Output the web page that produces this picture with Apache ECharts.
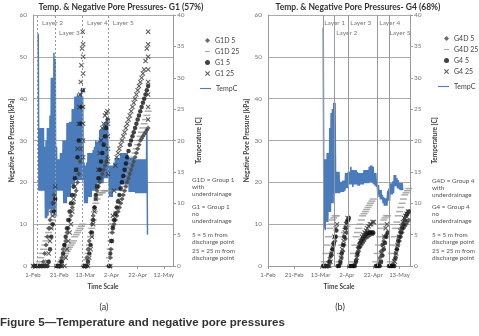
<!DOCTYPE html>
<html>
<head>
<meta charset="utf-8">
<script src="https://cdn.jsdelivr.net/npm/echarts@6/dist/echarts.min.js"></script>
<style>
html,body{margin:0;padding:0;background:#fff;}
#main{width:479px;height:336px;}
</style>
</head>
<body>
<div id="main"></div>
<script>
// x axis = days counted from 1-Feb
const tickLabelsA = ['1-Feb', '21-Feb', '13-Mar', '2-Apr', '22-Apr', '12-May'];
const tickLabelsB = ['1-Feb', '21-Feb', '13-Mar', '2-Apr', '22-Apr', '13-May'];

// layer placement lines (day) and their labels [day, kPa, text]
const layersA = [3.6, 17.3, 37.9, 57.5];
const layersB = [41.8, 50.6, 61.1, 83.2, 92.1];
const layerLabelsA = [[6.9, 58.1, 'Layer 2'], [19.8, 55.7, 'Layer 3'], [41.2, 58.1, 'Layer 4'], [61, 58.1, 'Layer 5']];
const layerLabelsB = [[42.7, 58.1, 'Layer 1'], [51.9, 55.7, 'Layer 2'], [62.6, 58.1, 'Layer 3'], [84.7, 58.1, 'Layer 4'], [92.4, 55.7, 'Layer 5']];

// temperature: daily high / low readings
const tempStartA = 4;
const tempHighA = [37, 22, 22, 22, 22, 19, 20, 22, 22, 24,
  30, 30, 34, 33, 19, 17, 17, 18, 18, 20,
  20, 20, 22.8, 22.8, 23, 23, 25, 25, 27, 27,
  27.5, 27, 27.5, 27.7, 27, 16.5, 16, 16.5, 18, 18,
  18, 18, 18.5, 19, 20, 19.8, 20, 21.7, 21.7, 22,
  22.5, 23, 23, 23, 16, 16, 16, 16, 16.5, 17.2,
  17.2, 17.2, 17.2, 18, 18, 18, 18, 18, 18, 17.2,
  17.2, 17.2, 17.2, 17.2, 17, 17, 17, 17, 17, 17,
  17, 17, 17, 22];
const tempLowA = [12, 12, 12, 12, 12, 7.6, 7.6, 8, 9, 9,
  9, 9, 8, 8, 12, 12, 12, 12, 12, 10,
  10, 10, 11, 11, 11, 13, 13, 13, 13.7, 13.7,
  13.7, 13.7, 13.7, 13.7, 13.7, 10, 10, 10, 11, 11,
  11, 12, 12, 12, 12, 13.2, 13.2, 13.2, 13.2, 13.2,
  14, 14, 14, 14, 11, 11, 11, 12, 12, 12,
  12, 12, 12, 13, 13, 13, 13, 13, 13, 11.8,
  11.8, 11.8, 11.8, 11.8, 11.6, 11.6, 11.6, 11.6, 11.6, 11.6,
  11.6, 11.6, 11.6, 5];

const tempStartB = 42;
const tempHighB = [38, 17, 17, 18, 18, 22, 24.4, 25, 26, 26,
  15, 15, 15, 13.4, 13.4, 13.6, 13.6, 14.8, 14.8, 15,
  15, 15.8, 15.3, 15.3, 15.3, 15.3, 15, 14.8, 14.8, 14.8,
  14.8, 15.3, 15.3, 15.3, 15.3, 15.8, 16, 16, 15.8, 14.8,
  14.8, 13.2, 12.9, 12.1, 12.1, 11.3, 11, 10.8, 10.8, 12,
  12.4, 13.2, 13.2, 13.5, 14.5, 14.5, 14, 13.7, 13.2, 13.2,
  13.2];
const tempLowB = [6, 5.7, 7, 7, 8.6, 8.6, 10, 10, 11.6, 11.6,
  11.6, 11.6, 11.6, 11.8, 11.8, 11.8, 12, 12.4, 12.4, 13,
  13, 13, 12.6, 13, 13, 13, 12.8, 12.8, 13, 13,
  13, 13.2, 13.2, 13.2, 13.2, 13.4, 13.4, 13.2, 13, 12.8,
  12.6, 11.4, 11, 10.6, 10.6, 10, 9.6, 9.6, 9.6, 10.4,
  10.4, 11.4, 11.4, 11.6, 12.7, 12.7, 12.4, 12.3, 12.1, 12.1,
  12.1];

// negative pore pressure readings [day, kPa]
const g1d5 = [[0.5,0],[2.5,0],[4.5,0],[6.5,0],
  [8,1],[9,3],[10,5],[11,7],[12,9],[13,11],[14,13],[15,15],[16,17],
  [18.5,0],[20.5,0],
  [21,1],[22,2],[23,4],[24,5],[25,6],[26,8],[27,9],[28,11],[29,12],[30,14],[31,15],[32,17],[33,18],[34,20],[35,22],[36,25],[37,28],
  [38.5,0],[40.5,0],
  [41,2],[42,4],[43,6],[44,8],[45,10],[46,12],[47,14],[48,16],[49,18],[50,19],[51,20],[52,21],[53,22],[54,23],[55,24],[56,25],[57,26],
  [58.5,0],[59,2],[59.5,4],[60,6],[60.5,8],[61,9.5],[62,10],[63,11],[64,12],[65,13],[66,14],[67,15],[68,16],[69,17],[70,18],[71,19],[72,20],[73,21],[74,22],[75,23],[76,24],[77,25],[78,26],[79,27],[80,28],[81,29],[82,30],[83,30.5],[84,31],[85,31.5],[86,32],[87,32.5],[88,33]];
const g1d25 = [[5,1],[6,2],[7,3],[8,4],[9,5],[10,6],[11,7],[12,8],[13,9],[14,10],[15,11],[16,12],
  [20,0],[21,1],[22,1.5],[23,2],[24,2.5],[25,3],[26,3.5],[27,4],[28,4.5],[29,5],[30,5.5],[31,6],[32,7],[33,7.5],[34,8],[35,8.5],[36,9],[37,9.5],[38,10],
  [40,0],[41,1.5],[42,3],[43,5],[44,7],[45,9],[46,11],[47,13],[48,15],[49,16],[50,17],[51,17],[52,17.5],[53,17.5],[54,18],[55,18],[56,18],[57,18],
  [58,0],[58.5,2],[59,4],[59.5,6],[60,8],[60.5,10],[61,10],[62,11],[63,12],[64,13],[65,14],[66,15],[67,16],[68,17],[69,18],[70,19],[71,20],[72,21],[73,22],[74,23],[75,24],[76,25],[77,26],[78,27],[79,28],[80,29],[81,30],[82,31],[83,32],[84,33],[85,34],[86,35],[87,36],[88,37]];
const g1_5 = [[1,0],[3,0],[5,0],[7,0],[9,0],[11,0],
  [12,1],[13,4],[14,7],[15,10],[16,13],[17,16],
  [18,0],[19,0],[20,0],[21,0],
  [22,1],[23,3],[24,5],[25,7],[26,9],[27,11],[28,13],[29,15],[30,17],[31,19],[32,21],[33,23],[34,26],[35,30],[36,34],[37,38],[38,42],
  [39,0],[40,0],[41,0],
  [42,1],[43,3],[44,5],[45,8],[46,11],[47,14],[48,17],[49,19],[50,21],[51,23],[52,25],[53,27],[54,29],[55,31],[56,33],[57,35],
  [58,0],[59,3],[60,6],[61,9],[62,11],[63,12.5],[64,14],[65,15.5],[66,17],[67,18.5],[68,20],[69,21.5],[70,23],[71,24.5],[72,26],[73,27.5],[74,29],[75,30],[76,31],[77,32],[78,33],[79,34],[80,35],[81,36],[82,37],[83,38],[84,39],[85,40],[86,41],[87,42],[88,43]];
const g1_25 = [[0,0],[2,0],[4,0],[6,0],[8,0],[10,0],
  [11,1],[12,3],[13,6],[14,9],[15,12],[16,15],[17,19],
  [18,0],[20,0],[22,0],[24,0],
  [25,2],[26,4],[27,6],[28,8],[29,10],[30,13],[31,16],[32,19],[33,23],[34,28],[35,34],[35.5,38],[36,41],[36.5,44],[37,48],[37.5,52],[38,56],
  [38.3,53],[38.3,50],[38.3,46],[38.3,42],[38.3,38],[38.3,34],[38.3,30],[38.3,26],
  [39,0],[40,0],[42,0],
  [43,2],[44,4],[45,7],[46,10],[47,13],[48,16],[49,19],[50,23],[51,27],[52,30],[53,33],[54,34],[55,36],[56,36.5],[57,37],
  [57.3,34],[57.3,31],[57.3,28],[57.3,25],[57.3,22],
  [59,0],[60,6],[61,12],[62,18],[63,24],[64,26],[65,27],[66,28],[67,29],[68,30],[69,31],[70,32],[71,33],[72,34],[73,35],[74,36],[75,37],[76,38],[77,39],[78,40],[79,41],[80,42],[81,43],[82,44],[83,45],[84,46],[85,47],[86,49],[87,52],[88,56],
  [88,53],[88,50],[88,47],[88,44],[88,41],[88,38],[88,35]];

const g4d5 = [[42,0],[43.5,0],[45,0],
  [46,1],[47,2],[48,3],[49,4],[50,5],[51,6],[52,7],
  [55,0.5],[56,2],[57,3.5],[58,5],[59,6.5],[60,8],
  [66,0.5],[67,1.5],[68,2.5],[69,3.5],[70,4.5],[71,5],[72,5.5],[73,6],[74,6.5],[75,7],[76,7],[77,7.5],[78,7.5],[79,7.7],[80,7.7],
  [84,0.5],[85,2],[86,3.5],[87,5],[88,6],[89,7],[90,7.5],
  [95,0.5],[96,1.5],[97,3],[98,4],[99,5],[100,6],[101,7],[102,8],[103,9],[104,9.5],[105,10],[106,10.5],[107,11]];
const g4d25 = [[43,1],[44,3],[45,5],[46,7],[47,9],[48,10],[49,11],[50,11.5],[51,12],[52,12],
  [54,1],[55,3],[56,5],[57,7],[58,8],[59,9],[60,9.5],
  [64,1],[65,3],[66,5],[67,7],[68,8],[69,9],[70,10],[71,11],[72,12],[73,12.5],[74,13],[75,13.5],[76,14],[77,14.5],[78,15],[79,15.5],[80,16],
  [82,1],[83,3],[84,5],[85,7],[86,9],[87,10],[88,11],[89,11.5],[90,12],[91,12],
  [93,1],[94,3],[95,5],[96,7],[97,9],[98,10.5],[99,12],[100,13],[101,14],[102,15],[103,16],[104,17],[105,17.5],[106,18],[107,18.5]];
const g4_5 = [[42,0],[43,0],[44,0],[45,0],[46,0],
  [47,1],[48,2.5],[49,4],[50,5.5],[51,7],[52,8.5],
  [53,0],[54,0],
  [55,1],[56,3],[57,5],[58,7],[59,9],[60,10.5],[61,11],[61.5,11.5],
  [62,0],[63,0],[64,0],[65,0],[66,0],
  [67,1],[68,3],[69,4.5],[70,5.5],[71,6],[72,6.5],[73,7],[74,7.5],[75,7.7],[76,8],[77,8],[78,8],[79,8],[80,8],
  [82,0],[83,0],[84,0],[85,0],
  [86,1],[87,2.5],[88,4],[89,5.5],[90,7],[91,8],
  [92,0],[93,0],[94,0],[95,0],[96,0],
  [97,2],[98,4],[99,6],[100,7],[101,8],[102,9],[103,10],[104,11],[105,12],[106,12.5],[107,13]];
const g4_25 = [[42.5,0],[44.5,0],[46.5,0],
  [47.5,1],[48.5,3],[49.5,5],[50.5,7],[51.5,9],[52.5,10],
  [55.5,2],[56.5,4],[57.5,6],[58.5,8],[59.5,10],[60.5,11.5],
  [67.5,2],[68.5,4],[69.5,5],[70.5,6],[71.5,7],[72.5,7.5],[73.5,8],[74.5,8.5],[75.5,9],[76.5,9.5],[77.5,10],[78.5,10],[79.5,10.5],[80.5,10.5],
  [85.5,1],[86.5,3],[87.5,5],[88.5,7],[89.5,9],[90.5,10],
  [96.5,1],[97.5,3],[98.5,5],[99.5,7],[100.5,8.5],[101.5,9.5],[102.5,10.5],[103.5,11.5],[104.5,12],[105.5,12.5],[106.5,13]];

// high reading at each day, low reading half a day later
function tempSeriesData(start, highs, lows) {
  const out = [];
  for (let i = 0; i < highs.length; i++) {
    out.push([start + i, highs[i]]);
    out.push([start + i + 0.5, lows[i]]);
  }
  return out;
}

const BLUE = '#4a7bbb';
const xPath = 'path://M0,1.5L1.5,0L5,3.5L8.5,0L10,1.5L6.5,5L10,8.5L8.5,10L5,6.5L1.5,10L0,8.5L3.5,5Z';
const dashPath = 'path://M0,0L10,0L10,2.2L0,2.2Z';

const chart = echarts.init(document.getElementById('main'));

function xAxisFor(gridIndex, max, labels) {
  return {
    type: 'value', gridIndex: gridIndex, min: 0, max: max, interval: 20,
    axisLine: { show: true, lineStyle: { color: '#9a9a9a' } },
    axisTick: { show: true, length: 3, lineStyle: { color: '#9a9a9a' } },
    splitLine: { show: false },
    axisLabel: { fontSize: 6, color: '#666', margin: 6, showMaxLabel: false,
      formatter: function (v) { return labels[v / 20] || ''; } },
    name: 'Time Scale', nameLocation: 'middle', nameGap: 17,
    nameTextStyle: { fontSize: 6.5, fontWeight: 'bold', color: '#404040' }
  };
}
function leftAxis(gridIndex) {
  return {
    type: 'value', gridIndex: gridIndex, position: 'left', min: 0, max: 60, interval: 10,
    axisLine: { show: true, lineStyle: { color: '#9a9a9a' } },
    axisTick: { show: false },
    splitLine: { show: true, lineStyle: { color: '#aaa' } },
    axisLabel: { fontSize: 6.5, color: '#777', margin: 6 },
    name: 'Negative Pore Pressure [kPa]', nameLocation: 'middle', nameGap: 17, nameRotate: 90,
    nameTextStyle: { fontSize: 6.5, fontWeight: 'bold', color: '#404040' }
  };
}
function rightAxis(gridIndex, gap) {
  return {
    type: 'value', gridIndex: gridIndex, position: 'right', min: 0, max: 40, interval: 5,
    axisLine: { show: true, lineStyle: { color: '#9a9a9a' } },
    axisTick: { show: true, length: 3, lineStyle: { color: '#9a9a9a' } },
    splitLine: { show: false },
    axisLabel: { fontSize: 6.5, color: '#777', margin: 4 },
    name: 'Temperature [C]', nameLocation: 'middle', nameGap: gap, nameRotate: 90,
    nameTextStyle: { fontSize: 6.5, fontWeight: 'bold', color: '#404040' }
  };
}
function scatter(name, data, x, y, symbol, size, color) {
  return { name: name, type: 'scatter', xAxisIndex: x, yAxisIndex: y, data: data,
    symbol: symbol, symbolSize: size, itemStyle: { color: color }, z: 3, silent: true };
}
function tempLine(data, x, y, layers, dashed) {
  return {
    name: 'TempC', type: 'line', xAxisIndex: x, yAxisIndex: y, data: data,
    symbol: 'none', showSymbol: false, sampling: null, lineStyle: { color: BLUE, width: 1.5 }, itemStyle: { color: BLUE }, z: 2,
    markLine: {
      silent: true, symbol: 'none', label: { show: false },
      lineStyle: { color: '#999', width: 1, type: dashed ? [2, 2] : 'solid' },
      data: layers.map(function (d) { return { xAxis: d }; })
    }
  };
}
function labelSeries(data, x, y) {
  return { name: 'layers', type: 'scatter', xAxisIndex: x, yAxisIndex: y, data: data, symbolSize: 0, silent: true,
    label: { show: true, position: 'right', distance: 0, fontSize: 6.5, color: '#555',
      formatter: function (p) { return p.value[2]; } } };
}
function legendMarks(names, left, top) {
  return { data: [{ name: names[0], icon: 'diamond' }, { name: names[1], icon: dashPath },
      { name: names[2], icon: 'circle' }, { name: names[3], icon: xPath }],
    orient: 'vertical', left: left, top: top, itemWidth: 5, itemHeight: 5, itemGap: 4, selectedMode: false,
    textStyle: { fontSize: 7, color: '#444' } };
}
function note(x, y, text) {
  return { type: 'text', x: x, y: y, silent: true,
    style: { text: text, fontSize: 6.3, fontFamily: 'Lato', fill: '#555', lineHeight: 7.3, align: 'left', verticalAlign: 'top' } };
}
function label(x, y, text, size, weight, family, align) {
  return { type: 'text', x: x, y: y, silent: true,
    style: { text: text, fontSize: size, fontWeight: weight, fontFamily: family, fill: '#333', align: align, verticalAlign: 'middle' } };
}

chart.setOption({
  animation: false,
  textStyle: { fontFamily: 'Lato' },
  grid: [
    { left: 33, top: 15, width: 140, height: 251 },
    { left: 268, top: 15, width: 142, height: 251 }
  ],
  xAxis: [xAxisFor(0, 107, tickLabelsA), xAxisFor(1, 108, tickLabelsB)],
  yAxis: [leftAxis(0), rightAxis(0, 22), leftAxis(1), rightAxis(1, 21)],
  legend: [
    legendMarks(['G1D 5', 'G1D 25', 'G1 5', 'G1 25'], 200, 32),
    { data: [{ name: 'TempC', icon: 'path://M0,0L10,0L10,1L0,1Z' }], left: 195, top: 80, itemWidth: 11, itemHeight: 5,
      itemStyle: { color: BLUE }, selectedMode: false, textStyle: { fontSize: 7, color: '#444' } },
    legendMarks(['G4D 5', 'G4D 25', 'G4 5', 'G4 25'], 439, 30),
    { data: [{ name: 'TempC', icon: 'path://M0,0L10,0L10,1L0,1Z' }], left: 433, top: 78, itemWidth: 11, itemHeight: 5,
      itemStyle: { color: BLUE }, selectedMode: false, textStyle: { fontSize: 7, color: '#444' } }
  ],
  series: [
    tempLine(tempSeriesData(tempStartA, tempHighA, tempLowA), 0, 1, layersA, true),
    scatter('G1D 25', g1d25, 0, 0, 'rect', [7, 1.5], '#999'),
    scatter('G1D 5', g1d5, 0, 0, 'diamond', 5, '#444'),
    scatter('G1 5', g1_5, 0, 0, 'circle', 4.5, '#111'),
    scatter('G1 25', g1_25, 0, 0, xPath, 5, '#333'),
    labelSeries(layerLabelsA, 0, 0),
    tempLine(tempSeriesData(tempStartB, tempHighB, tempLowB), 1, 3, layersB, false),
    scatter('G4D 25', g4d25, 1, 2, 'rect', [7, 1.5], '#999'),
    scatter('G4D 5', g4d5, 1, 2, 'diamond', 5, '#444'),
    scatter('G4 5', g4_5, 1, 2, 'circle', 4.5, '#111'),
    scatter('G4 25', g4_25, 1, 2, xPath, 5, '#333'),
    labelSeries(layerLabelsB, 1, 2)
  ],
  graphic: [
    label(121, 7, 'Temp. & Negative Pore Pressures- G1 (57%)', 8.5, 'bold', 'Lato', 'center'),
    label(358, 7, 'Temp. & Negative Pore Pressures- G4 (68%)', 8.5, 'bold', 'Lato', 'center'),
    note(192, 176, 'G1D = Group 1\nwith\nunderdrainage'),
    note(192, 203, 'G1 = Group 1\nno\nunderdrainage'),
    note(192, 231, '5 = 5 m from\ndischarge point'),
    note(192, 247, '25 = 25 m from\ndischarge point'),
    note(432, 177, 'G4D = Group 4\nwith\nunderdrainage'),
    note(432, 203, 'G4 = Group 4\nno\nunderdrainage'),
    note(432, 231, '5 = 5 m from\ndischarge point'),
    note(432, 247, '25 = 25 m from\ndischarge point'),
    label(104, 307, '(a)', 9, 'normal', 'Lato', 'center'),
    label(340, 307, '(b)', 9, 'normal', 'Lato', 'center'),
    label(0, 323, 'Figure 5\u2014Temperature and negative pore pressures', 11.5, 'bold', 'Liberation Sans', 'left')
  ]
});
</script>
</body>
</html>
